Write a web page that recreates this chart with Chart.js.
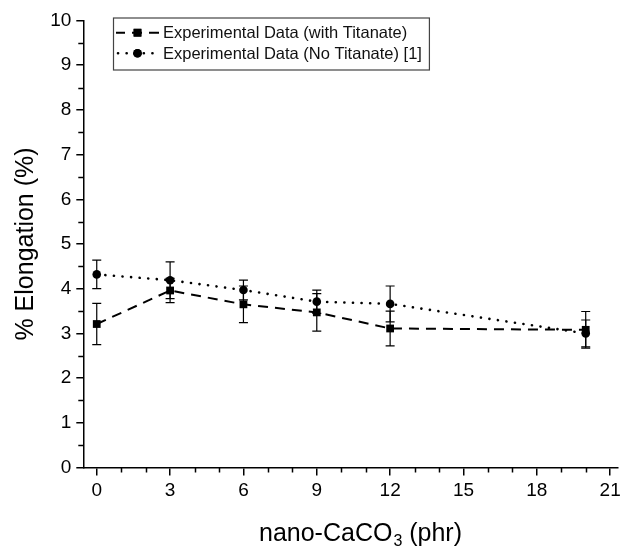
<!DOCTYPE html>
<html>
<head>
<meta charset="utf-8">
<script src="https://cdn.jsdelivr.net/npm/chart.js@4.4.1/dist/chart.umd.min.js"></script>
<style>
html,body{margin:0;padding:0;background:#fff;}
#wrap{width:627px;height:546px;position:relative;}
</style>
</head>
<body>
<div id="wrap"><canvas id="c" width="627" height="546"></canvas></div>
<script>
// ---- data ----
const xValues = [0, 3, 6, 9, 12, 20];
const withTitanate = [3.21, 3.96, 3.65, 3.47, 3.11, 3.08];
const withTitanateErr = [0.46, 0.27, 0.41, 0.42, 0.39, 0.41];
const noTitanate = [4.32, 4.19, 3.97, 3.71, 3.66, 3.00];
const noTitanateErr = [0.32, 0.41, 0.22, 0.26, 0.40, 0.30];
const seriesLabels = ['Experimental Data (with Titanate)', 'Experimental Data (No Titanate) [1]'];
const xTickLabels = [0, 3, 6, 9, 12, 15, 18, 21];
const yTickLabels = [0, 1, 2, 3, 4, 5, 6, 7, 8, 9, 10];
const xMinorTicks = [1, 2, 4, 5, 7, 8, 10, 11, 13, 14, 16, 17, 19, 20];
const yMinorTicks = [0.5, 1.5, 2.5, 3.5, 4.5, 5.5, 6.5, 7.5, 8.5, 9.5];
const xTitle = ['nano-CaCO', '3', ' (phr)'];
const yTitle = '% Elongation (%)';

const FONT = '"Liberation Sans", Arial, sans-serif';
const errs = [withTitanateErr, noTitanateErr];

const errorBarPlugin = {
  id: 'errorBars',
  afterDatasetsDraw(chart) {
    const ctx = chart.ctx;
    const xs = chart.scales.x, ys = chart.scales.y;
    ctx.save();
    ctx.strokeStyle = '#000';
    ctx.lineWidth = 1.2;
    chart.data.datasets.forEach((ds, i) => {
      ds.data.forEach((p, j) => {
        const e = errs[i][j];
        const px = xs.getPixelForValue(p.x);
        const top = ys.getPixelForValue(p.y + e);
        const bot = ys.getPixelForValue(p.y - e);
        ctx.beginPath();
        ctx.moveTo(px, top); ctx.lineTo(px, bot);
        ctx.moveTo(px - 4.5, top); ctx.lineTo(px + 4.5, top);
        ctx.moveTo(px - 4.5, bot); ctx.lineTo(px + 4.5, bot);
        ctx.stroke();
      });
    });
    ctx.restore();
  }
};

const decorPlugin = {
  id: 'decor',
  afterDraw(chart) {
    const ctx = chart.ctx;
    const xs = chart.scales.x, ys = chart.scales.y;
    const area = chart.chartArea;
    ctx.save();
    // minor ticks
    ctx.strokeStyle = '#000';
    ctx.lineWidth = 1.5;
    ctx.beginPath();
    xMinorTicks.forEach(v => {
      const px = Math.round(xs.getPixelForValue(v)) + 0.5;
      ctx.moveTo(px, area.bottom); ctx.lineTo(px, area.bottom + 5);
    });
    yMinorTicks.forEach(v => {
      const py = Math.round(ys.getPixelForValue(v)) + 0.5;
      ctx.moveTo(area.left, py); ctx.lineTo(area.left - 5, py);
    });
    ctx.stroke();

    // x title with subscript
    ctx.fillStyle = '#000';
    ctx.textBaseline = 'alphabetic';
    ctx.textAlign = 'left';
    const big = '25px ' + FONT, small = '16px ' + FONT;
    ctx.font = big;
    const w1 = ctx.measureText(xTitle[0]).width;
    const w3 = ctx.measureText(xTitle[2]).width;
    ctx.font = small;
    const w2 = ctx.measureText(xTitle[1]).width;
    const total = w1 + w2 + w3;
    let sx = 360 - total / 2;
    const baseY = 540.5;
    ctx.font = big;
    ctx.fillText(xTitle[0], sx, baseY);
    ctx.font = small;
    ctx.fillText(xTitle[1], sx + w1 + 1, baseY + 5);
    ctx.font = big;
    ctx.fillText(xTitle[2], sx + w1 + w2 + 1, baseY);

    // y title
    ctx.save();
    ctx.translate(26, 244);
    ctx.rotate(-Math.PI / 2);
    ctx.textAlign = 'center';
    ctx.textBaseline = 'middle';
    ctx.font = big;
    ctx.fillText(yTitle, 0, 0);
    ctx.restore();

    // legend
    const lx = 113, ly = 17.5, rowH = 20.6;
    ctx.font = '16.5px ' + FONT;
    let maxW = 0;
    seriesLabels.forEach(l => { maxW = Math.max(maxW, ctx.measureText(l).width); });
    const boxW = 163 - lx + maxW + 7;
    const boxH = 52;
    ctx.strokeStyle = '#444';
    ctx.lineWidth = 1.2;
    ctx.strokeRect(lx + 0.5, ly + 0.5, boxW, boxH);
    chart.data.datasets.forEach((ds, i) => {
      const cy = 32.7 + i * rowH;
      ctx.save();
      ctx.strokeStyle = '#000';
      ctx.lineWidth = ds.borderWidth;
      ctx.lineCap = ds.borderCapStyle || 'butt';
      ctx.setLineDash(ds.borderDash);
      ctx.lineDashOffset = i === 0 ? 1 : -2;
      ctx.beginPath();
      ctx.moveTo(116, cy); ctx.lineTo(159, cy);
      ctx.stroke();
      ctx.setLineDash([]);
      ctx.fillStyle = '#000';
      Chart.helpers.drawPoint(ctx, {pointStyle: ds.pointStyle, radius: ds.pointRadius, rotation: 0, borderWidth: 0}, 137.5, cy);
      ctx.fill();
      ctx.restore();
      ctx.fillStyle = '#111';
      ctx.textAlign = 'left';
      ctx.textBaseline = 'middle';
      ctx.fillText(seriesLabels[i], 163, cy + 1);
    });
    ctx.restore();
  }
};

const ds1 = xValues.map((x, i) => ({x: x, y: withTitanate[i]}));
const ds2 = xValues.map((x, i) => ({x: x, y: noTitanate[i]}));

new Chart(document.getElementById('c'), {
  type: 'scatter',
  data: {
    datasets: [
      {
        label: seriesLabels[0], data: ds1, showLine: true,
        borderColor: '#000', backgroundColor: '#000', borderWidth: 2,
        borderDash: [10, 7], pointStyle: 'rect', pointRadius: 5.5,
        pointBorderWidth: 0, pointBackgroundColor: '#000', pointHoverRadius: 5.5
      },
      {
        label: seriesLabels[1], data: ds2, showLine: true,
        borderColor: '#000', backgroundColor: '#000', borderWidth: 2.6,
        borderDash: [0.1, 8.5], borderCapStyle: 'round', pointStyle: 'circle', pointRadius: 4.3,
        pointBorderWidth: 0, pointBackgroundColor: '#000', pointHoverRadius: 4.3
      }
    ]
  },
  options: {
    responsive: false,
    animation: false,
    clip: false,
    layout: {padding: {top: 20.5, right: 9.5, left: 0, bottom: 0}},
    plugins: {legend: {display: false}, tooltip: {enabled: false}, title: {display: false}},
    scales: {
      x: {
        type: 'linear', min: -0.55, max: 21.3,
        afterBuildTicks(scale) { scale.ticks = xTickLabels.map(v => ({value: v})); },
        afterFit(scale) { scale.height = 78.5; },
        grid: {drawOnChartArea: false, drawTicks: true, tickLength: 8, color: '#000', lineWidth: 1.5},
        border: {display: true, color: '#000', width: 1.5},
        ticks: {color: '#000', font: {family: FONT, size: 19}, padding: 4, maxRotation: 0, autoSkip: false}
      },
      y: {
        type: 'linear', min: 0, max: 10,
        afterBuildTicks(scale) { scale.ticks = yTickLabels.map(v => ({value: v})); },
        afterFit(scale) { scale.width = 83.3; },
        grid: {drawOnChartArea: false, drawTicks: true, tickLength: 7, color: '#000', lineWidth: 1.5},
        border: {display: true, color: '#000', width: 1.5},
        ticks: {color: '#000', font: {family: FONT, size: 19}, padding: 5, autoSkip: false}
      }
    }
  },
  plugins: [errorBarPlugin, decorPlugin]
});
</script>
</body>
</html>
